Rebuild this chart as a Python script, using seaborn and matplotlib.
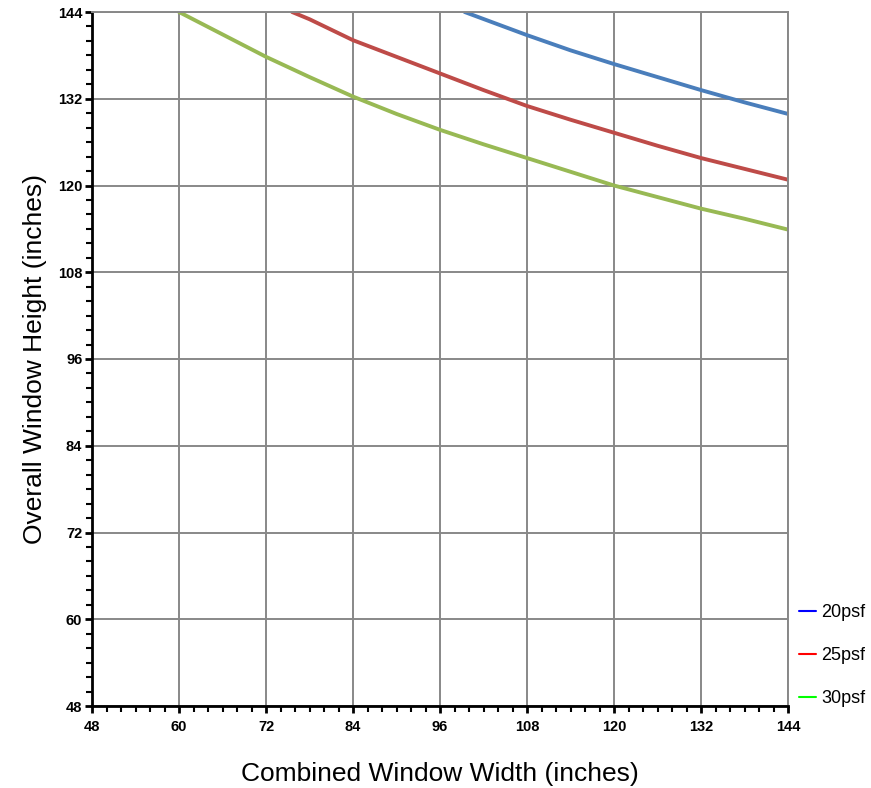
import pandas as pd
import numpy as np
import matplotlib
matplotlib.use('Agg')
import matplotlib.pyplot as plt
import seaborn as sns
from matplotlib.lines import Line2D
from matplotlib.ticker import MultipleLocator

sns.set_style("white")
plt.rcParams['font.family'] = ['Liberation Sans', 'DejaVu Sans']
plt.rcParams['text.color'] = 'black'
plt.rcParams['axes.labelcolor'] = 'black'
plt.rcParams['xtick.color'] = 'black'
plt.rcParams['ytick.color'] = 'black'
plt.rcParams['xtick.bottom'] = True
plt.rcParams['ytick.left'] = True

# values (width, height in inches)
width_20 = [99.4, 108, 114, 120, 126, 132, 138, 144]
height_20 = [144, 140.8, 138.7, 136.8, 135.0, 133.2, 131.5, 129.9]

width_25 = [75.6, 78, 84, 90, 96, 102, 108, 114, 120, 126, 132, 138, 144]
height_25 = [144, 143.0, 140.1, 137.8, 135.5, 133.2, 131.0, 129.1, 127.3, 125.5, 123.8, 122.3, 120.8]

width_30 = [60, 66, 72, 78, 84, 90, 96, 102, 108, 114, 120, 126, 132, 138, 144]
height_30 = [144, 140.9, 137.8, 135.0, 132.3, 129.9, 127.7, 125.7, 123.8, 121.9, 120.0, 118.4, 116.8, 115.4, 113.9]

labels = ['20psf', '25psf', '30psf']
line_colors = ['#4a7ebb', '#be4b48', '#98b954']
legend_colors = ['#0000ff', '#ff0000', '#00ff00']

df = pd.concat([
    pd.DataFrame({'width': width_20, 'height': height_20, 'load': labels[0]}),
    pd.DataFrame({'width': width_25, 'height': height_25, 'load': labels[1]}),
    pd.DataFrame({'width': width_30, 'height': height_30, 'load': labels[2]}),
])

fig = plt.figure(figsize=(8.71, 7.88), dpi=100)
ax = fig.add_axes([92/871, 1 - 706/788, 696/871, 694/788])

sns.lineplot(data=df, x='width', y='height', hue='load', palette=line_colors,
             linewidth=2.8, legend=False, ax=ax, sort=True)

ax.set_xlim(48, 144)
ax.set_ylim(48, 144)
ax.xaxis.set_major_locator(MultipleLocator(12))
ax.yaxis.set_major_locator(MultipleLocator(12))
ax.xaxis.set_minor_locator(MultipleLocator(2))
ax.yaxis.set_minor_locator(MultipleLocator(2))
ax.grid(True, which='major', color='#888888', linewidth=1.4)
ax.set_axisbelow(True)

for side in ['top', 'right']:
    ax.spines[side].set_color('#888888')
    ax.spines[side].set_linewidth(1.4)
for side in ['left', 'bottom']:
    ax.spines[side].set_color('black')
    ax.spines[side].set_linewidth(2)

ax.tick_params(which='major', direction='out', length=5, width=2, color='black')
ax.tick_params(which='minor', direction='out', length=4, width=1.5, color='black')
ax.tick_params(axis='x', which='major', pad=5)
ax.tick_params(axis='y', which='major', pad=2)
ax.tick_params(which='both', top=False, right=False, bottom=True, left=True)
for lbl in ax.get_xticklabels() + ax.get_yticklabels():
    lbl.set_fontweight('bold')
    lbl.set_fontsize(10.5)
    lbl.set_color('black')

ax.set_xlabel('Combined Window Width (inches)', fontsize=19, labelpad=20)
ax.set_ylabel('Overall Window Height (inches)', fontsize=19, labelpad=8)

handles = [Line2D([0], [0], color=c, linewidth=1.5) for c in legend_colors]
fig.legend(handles, labels, loc='upper left', bbox_to_anchor=(799/871, 1 - 604/788),
           frameon=False, fontsize=13, handlelength=0.95, handletextpad=0.3,
           labelspacing=1.45, borderpad=0, borderaxespad=0, labelcolor='black')

plt.savefig('out.png', dpi=100)
